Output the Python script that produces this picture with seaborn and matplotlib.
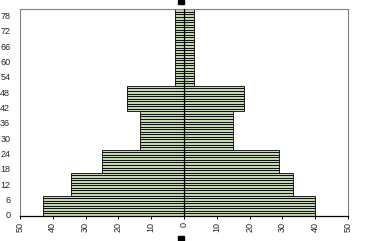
import matplotlib
matplotlib.use("Agg")
import matplotlib.pyplot as plt
import seaborn as sns
import numpy as np
import pandas as pd
from matplotlib.patches import Rectangle

sns.set_theme(style="white")
plt.rcParams['font.family'] = ['Liberation Sans', 'DejaVu Sans']

# ages 0..80 (one bar per age)
ages = list(range(81))
# left side (shown as negative), values per age
left_values = ([43.0] * 8 + [34.5] * 9 + [25.0] * 9 + [13.5] * 15 +
               [17.5] * 10 + [2.8] * 30)
# right side values per age
right_values = ([40.0] * 8 + [33.3] * 9 + [29.0] * 9 + [14.8] * 15 +
                [18.2] * 10 + [3.0] * 30)
x_ticks = [-50, -40, -30, -20, -10, 0, 10, 20, 30, 40, 50]
x_tick_labels = ["50", "40", "30", "20", "10", "0", "10", "20", "30", "40", "50"]
y_ticks = list(range(0, 79, 6))

df = pd.DataFrame({"age": ages,
                   "left": [-v for v in left_values],
                   "right": right_values})

W, H = 366, 241
fig = plt.figure(figsize=(W / 100, H / 100), dpi=100)
ax = fig.add_axes([20 / W, (H - 216) / H, 328 / W, 206.7 / H])

fill = "#c4d4b4"
sns.barplot(data=df, x="left", y="age", orient="h", native_scale=True,
            width=1.0, color=fill, edgecolor="black", linewidth=0.6,
            saturation=1, ax=ax)
sns.barplot(data=df, x="right", y="age", orient="h", native_scale=True,
            width=1.0, color=fill, edgecolor="black", linewidth=0.6,
            saturation=1, ax=ax)

ax.axvline(0, color="black", lw=0.9, zorder=5)
ax.set_xlim(-50, 50)
ax.set_ylim(-0.5, 80.5)
ax.set_xticks(x_ticks)
ax.set_xticklabels(x_tick_labels, rotation=90, fontsize=6.5)
ax.set_yticks(y_ticks)
ax.set_yticklabels([str(t) for t in y_ticks], fontsize=6.5)
ax.set_xlabel("")
ax.set_ylabel("")
ax.tick_params(axis="x", direction="out", length=2.5, width=0.7,
               color="black", pad=2, bottom=True)
ax.tick_params(axis="y", length=0, pad=7)

for side in ["left", "top", "right"]:
    ax.spines[side].set_color("#808080")
    ax.spines[side].set_linewidth(0.8)
ax.spines["bottom"].set_color("black")
ax.spines["bottom"].set_linewidth(0.9)

# small black markers above and below the plot
fig.patches.append(Rectangle((178 / W, (H - 4) / H), 6 / W, 4 / H,
                             transform=fig.transFigure, color="black"))
fig.patches.append(Rectangle((178 / W, 0), 5.5 / W, 5 / H,
                             transform=fig.transFigure, color="black"))

fig.savefig("out.png", dpi=100)
